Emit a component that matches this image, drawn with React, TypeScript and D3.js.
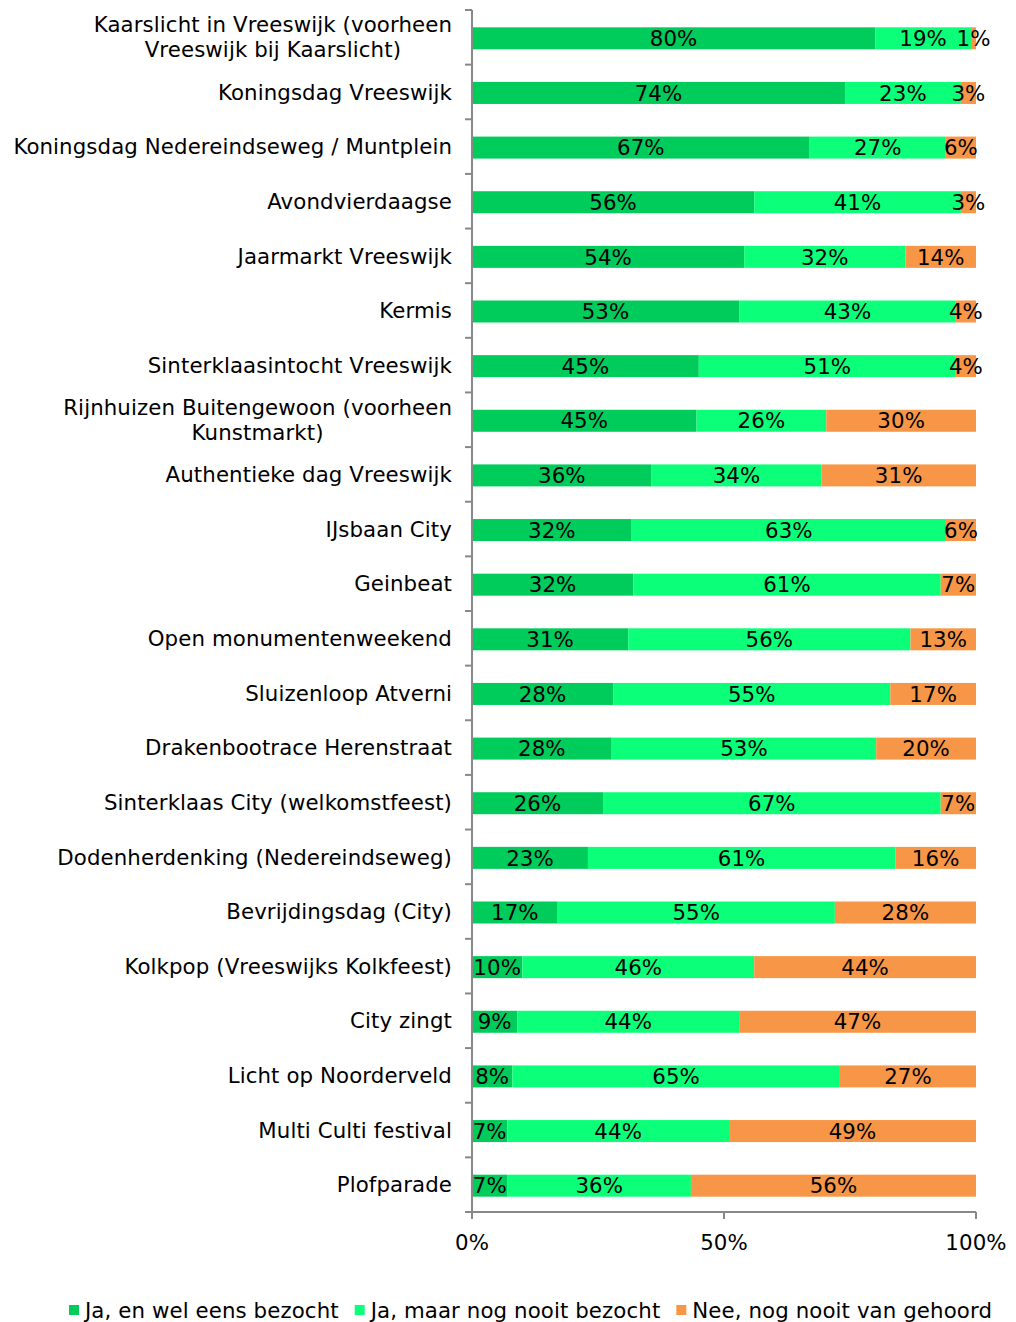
import React from 'react';
import * as d3 from 'd3';

const W = 1016;
const H = 1322;
const MARGIN = { top: 10, right: 40, bottom: 110, left: 472 };
const FONT = 'Verdana, "DejaVu Sans", sans-serif';
const FS = 21.3;
const LS = 0.1;

const categories = [
  'Kaarslicht in Vreeswijk (voorheen|Vreeswijk bij Kaarslicht)',
  'Koningsdag Vreeswijk',
  'Koningsdag Nedereindseweg / Muntplein',
  'Avondvierdaagse',
  'Jaarmarkt Vreeswijk',
  'Kermis',
  'Sinterklaasintocht Vreeswijk',
  'Rijnhuizen Buitengewoon (voorheen|Kunstmarkt)',
  'Authentieke dag Vreeswijk',
  'IJsbaan City',
  'Geinbeat',
  'Open monumentenweekend',
  'Sluizenloop Atverni',
  'Drakenbootrace Herenstraat',
  'Sinterklaas City (welkomstfeest)',
  'Dodenherdenking (Nedereindseweg)',
  'Bevrijdingsdag (City)',
  'Kolkpop (Vreeswijks Kolkfeest)',
  'City zingt',
  'Licht op Noorderveld',
  'Multi Culti festival',
  'Plofparade',
];

const visited = [80, 74, 67, 56, 54, 53, 45, 45, 36, 32, 32, 31, 28, 28, 26, 23, 17, 10, 9, 8, 7, 7];
const notVisited = [19, 23, 27, 41, 32, 43, 51, 26, 34, 63, 61, 56, 55, 53, 67, 61, 55, 46, 44, 65, 44, 36];
const unknown = [1, 3, 6, 3, 14, 4, 4, 30, 31, 6, 7, 13, 17, 20, 7, 16, 28, 44, 47, 27, 49, 56];

const seriesNames = ['Ja, en wel eens bezocht', 'Ja, maar nog nooit bezocht', 'Nee, nog nooit van gehoord'];
const seriesColors = ['#00CC5C', '#0CFF78', '#F79646'];
const xTicks = [0, 0.5, 1];

let ctx: CanvasRenderingContext2D | null = null;
function measure(t: string) {
  if (!ctx) ctx = document.createElement('canvas').getContext('2d');
  if (!ctx) return t.length * 11;
  ctx.font = `${FS}px Verdana, "DejaVu Sans", sans-serif`;
  return ctx.measureText(t).width + LS * t.length;
}

export default function App() {
  const innerH = H - MARGIN.top - MARGIN.bottom;
  const x = d3.scaleLinear().domain([0, 1]).range([0, 504]);
  const y = d3.scaleBand().domain(categories).range([0, innerH]).padding(0);
  const barH = 22;

  const rows = categories.map((c, i) => {
    const vals = [visited[i], notVisited[i], unknown[i]];
    const total = d3.sum(vals);
    let acc = 0;
    const segs = vals.map((v, k) => {
      const s = { k, v, x0: acc / total, x1: (acc + v) / total };
      acc += v;
      return s;
    });
    return { c, segs };
  });

  // legend layout
  const sq = 10;
  const gapSqText = 6;
  const gapItems = 16;
  const widths = seriesNames.map(n => sq + gapSqText + measure(n));
  const totalLegend = d3.sum(widths) + gapItems * (seriesNames.length - 1);
  let lx = 67 + (927 - totalLegend) / 2;
  const legendItems = seriesNames.map((n, i) => {
    const item = { n, i, x: lx };
    lx += widths[i] + gapItems;
    return item;
  });

  return (
    <svg width={W} height={H} style={{ position: 'absolute', left: 0, top: 0, background: '#fff' }}
      fontFamily={FONT} fontSize={FS} letterSpacing={LS}>
      <g transform={`translate(${MARGIN.left},${MARGIN.top})`}>
        {rows.map(({ c, segs }) => {
          const cy = (y(c) as number) + y.bandwidth() / 2 + 1;
          const lines = c.split('|');
          const maxW = d3.max(lines, l => measure(l)) as number;
          return (
            <g key={c}>
              {segs.map(s => (
                <rect key={s.k} x={x(s.x0)} y={cy - barH / 2} width={x(s.x1) - x(s.x0)} height={barH}
                  fill={seriesColors[s.k]} />
              ))}
              {segs.map(s => (
                <text key={'t' + s.k} x={(x(s.x0) + x(s.x1)) / 2} y={cy} dy="0.36em" textAnchor="middle" fill="#000">
                  {s.v}%
                </text>
              ))}
              {lines.length === 1 ? (
                <text x={-20} y={cy - 1} dy="0.36em" textAnchor="end" fill="#000">{c}</text>
              ) : (
                lines.map((l, li) => (
                  <text key={li} x={-20 - maxW / 2} y={cy - 1 + (li - (lines.length - 1) / 2) * 25} dy="0.36em"
                    textAnchor="middle" fill="#000">{l}</text>
                ))
              )}
            </g>
          );
        })}
        {/* y axis */}
        <line x1={0} x2={0} y1={0} y2={innerH} stroke="#888" strokeWidth={2} />
        {d3.range(categories.length + 1).map(i => (
          <line key={i} x1={-7} x2={0} y1={(innerH / categories.length) * i} y2={(innerH / categories.length) * i}
            stroke="#888" strokeWidth={2} />
        ))}
        {/* x axis */}
        <line x1={0} x2={x(1)} y1={innerH} y2={innerH} stroke="#888" strokeWidth={2} />
        {xTicks.map(t => (
          <g key={t}>
            <line x1={x(t)} x2={x(t)} y1={innerH} y2={innerH + 7} stroke="#888" strokeWidth={2} />
            <text x={x(t)} y={innerH + 30} dy="0.36em" textAnchor="middle" fill="#000">{d3.format('.0%')(t)}</text>
          </g>
        ))}
      </g>
      <g>
        {legendItems.map(it => (
          <g key={it.n}>
            <rect x={it.x} y={1305} width={sq} height={sq} fill={seriesColors[it.i]} />
            <text x={it.x + sq + gapSqText} y={1310} dy="0.36em" fill="#000">{it.n}</text>
          </g>
        ))}
      </g>
    </svg>
  );
}
